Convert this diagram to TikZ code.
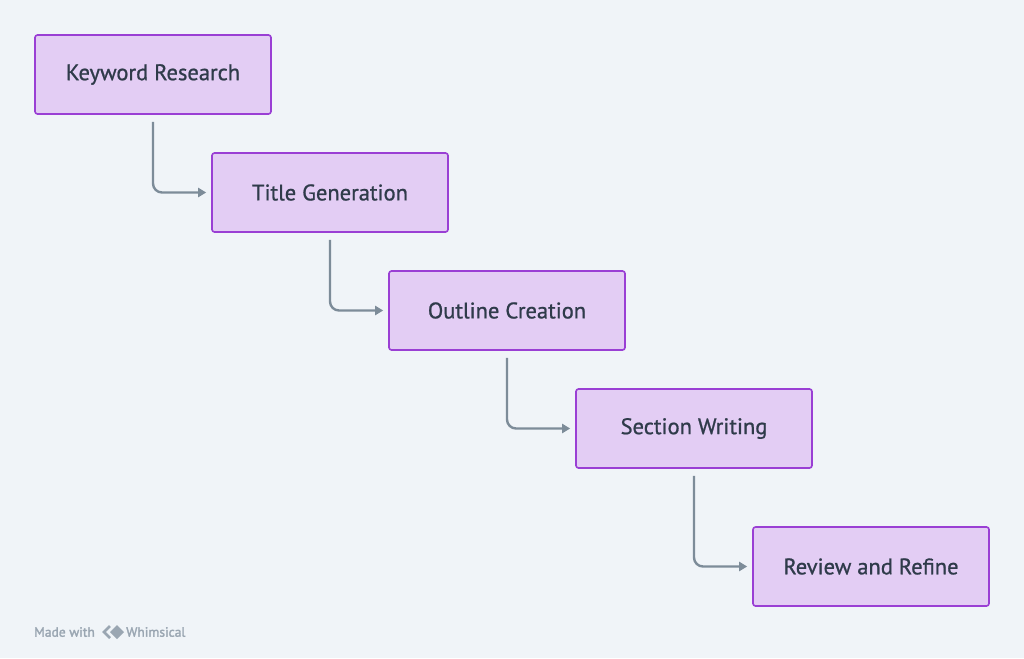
\documentclass[tikz,border=0pt]{standalone}
\usepackage{fontspec}
\setmainfont{PT Sans}
\newfontfamily\boxfont{PT Sans}[FakeBold=0.9]
\newfontfamily\markfont{PT Sans}[FakeBold=2]
\usetikzlibrary{arrows.meta}
\definecolor{bgc}{HTML}{F0F4F8}
\definecolor{boxfill}{HTML}{E3CDF4}
\definecolor{boxline}{HTML}{9A3FD4}
\definecolor{arrowc}{HTML}{7D8C99}
\definecolor{textc}{HTML}{2F3B4A}
\definecolor{markc}{HTML}{9AA6B2}
\tikzset{
  stepbox/.style={draw=boxline, fill=boxfill, line width=1.6pt, rounded corners=2.5pt,
    minimum width=236pt, minimum height=79pt, inner sep=0pt, text=textc,
    font=\boxfont\fontsize{22.5}{26}\selectfont},
  flow/.style={draw=arrowc, line width=2.4pt, rounded corners=9pt,
    -{Triangle[length=8pt,width=9pt]}, shorten <=7pt, shorten >=5pt},
  wmark/.style={anchor=west, inner sep=0pt, text=markc, font=\markfont\fontsize{13.5}{15}\selectfont}
}
\begin{document}
\begin{tikzpicture}[x=1pt,y=-1pt]
\fill[bgc] (0,0) rectangle (1024,658);
\useasboundingbox (0,0) rectangle (1024,658);
\node[stepbox] (kr) at (153,74.5) {Keyword Research};
\node[stepbox] (tg) at (330,192.5) {Title Generation};
\node[stepbox] (oc) at (507,310.5) {Outline Creation};
\node[stepbox] (sw) at (694,428.5) {Section Writing};
\node[stepbox] (rr) at (871,566.5) {Review and Refine};
\draw[flow] (kr.south) |- (tg.west);
\draw[flow] (tg.south) |- (oc.west);
\draw[flow] (oc.south) |- (sw.west);
\draw[flow] (sw.south) |- (rr.west);
\node[wmark] (made) at (34,632) {Made with};
\node[wmark] (wh) at (126,632) {Whimsical};
\draw[markc, line width=2.6pt, line join=miter] (110,626) -- (104,632) -- (110,638);
\fill[markc] (117,625) -- (124,632) -- (117,639) -- (110,632) -- cycle;
\end{tikzpicture}
\end{document}
